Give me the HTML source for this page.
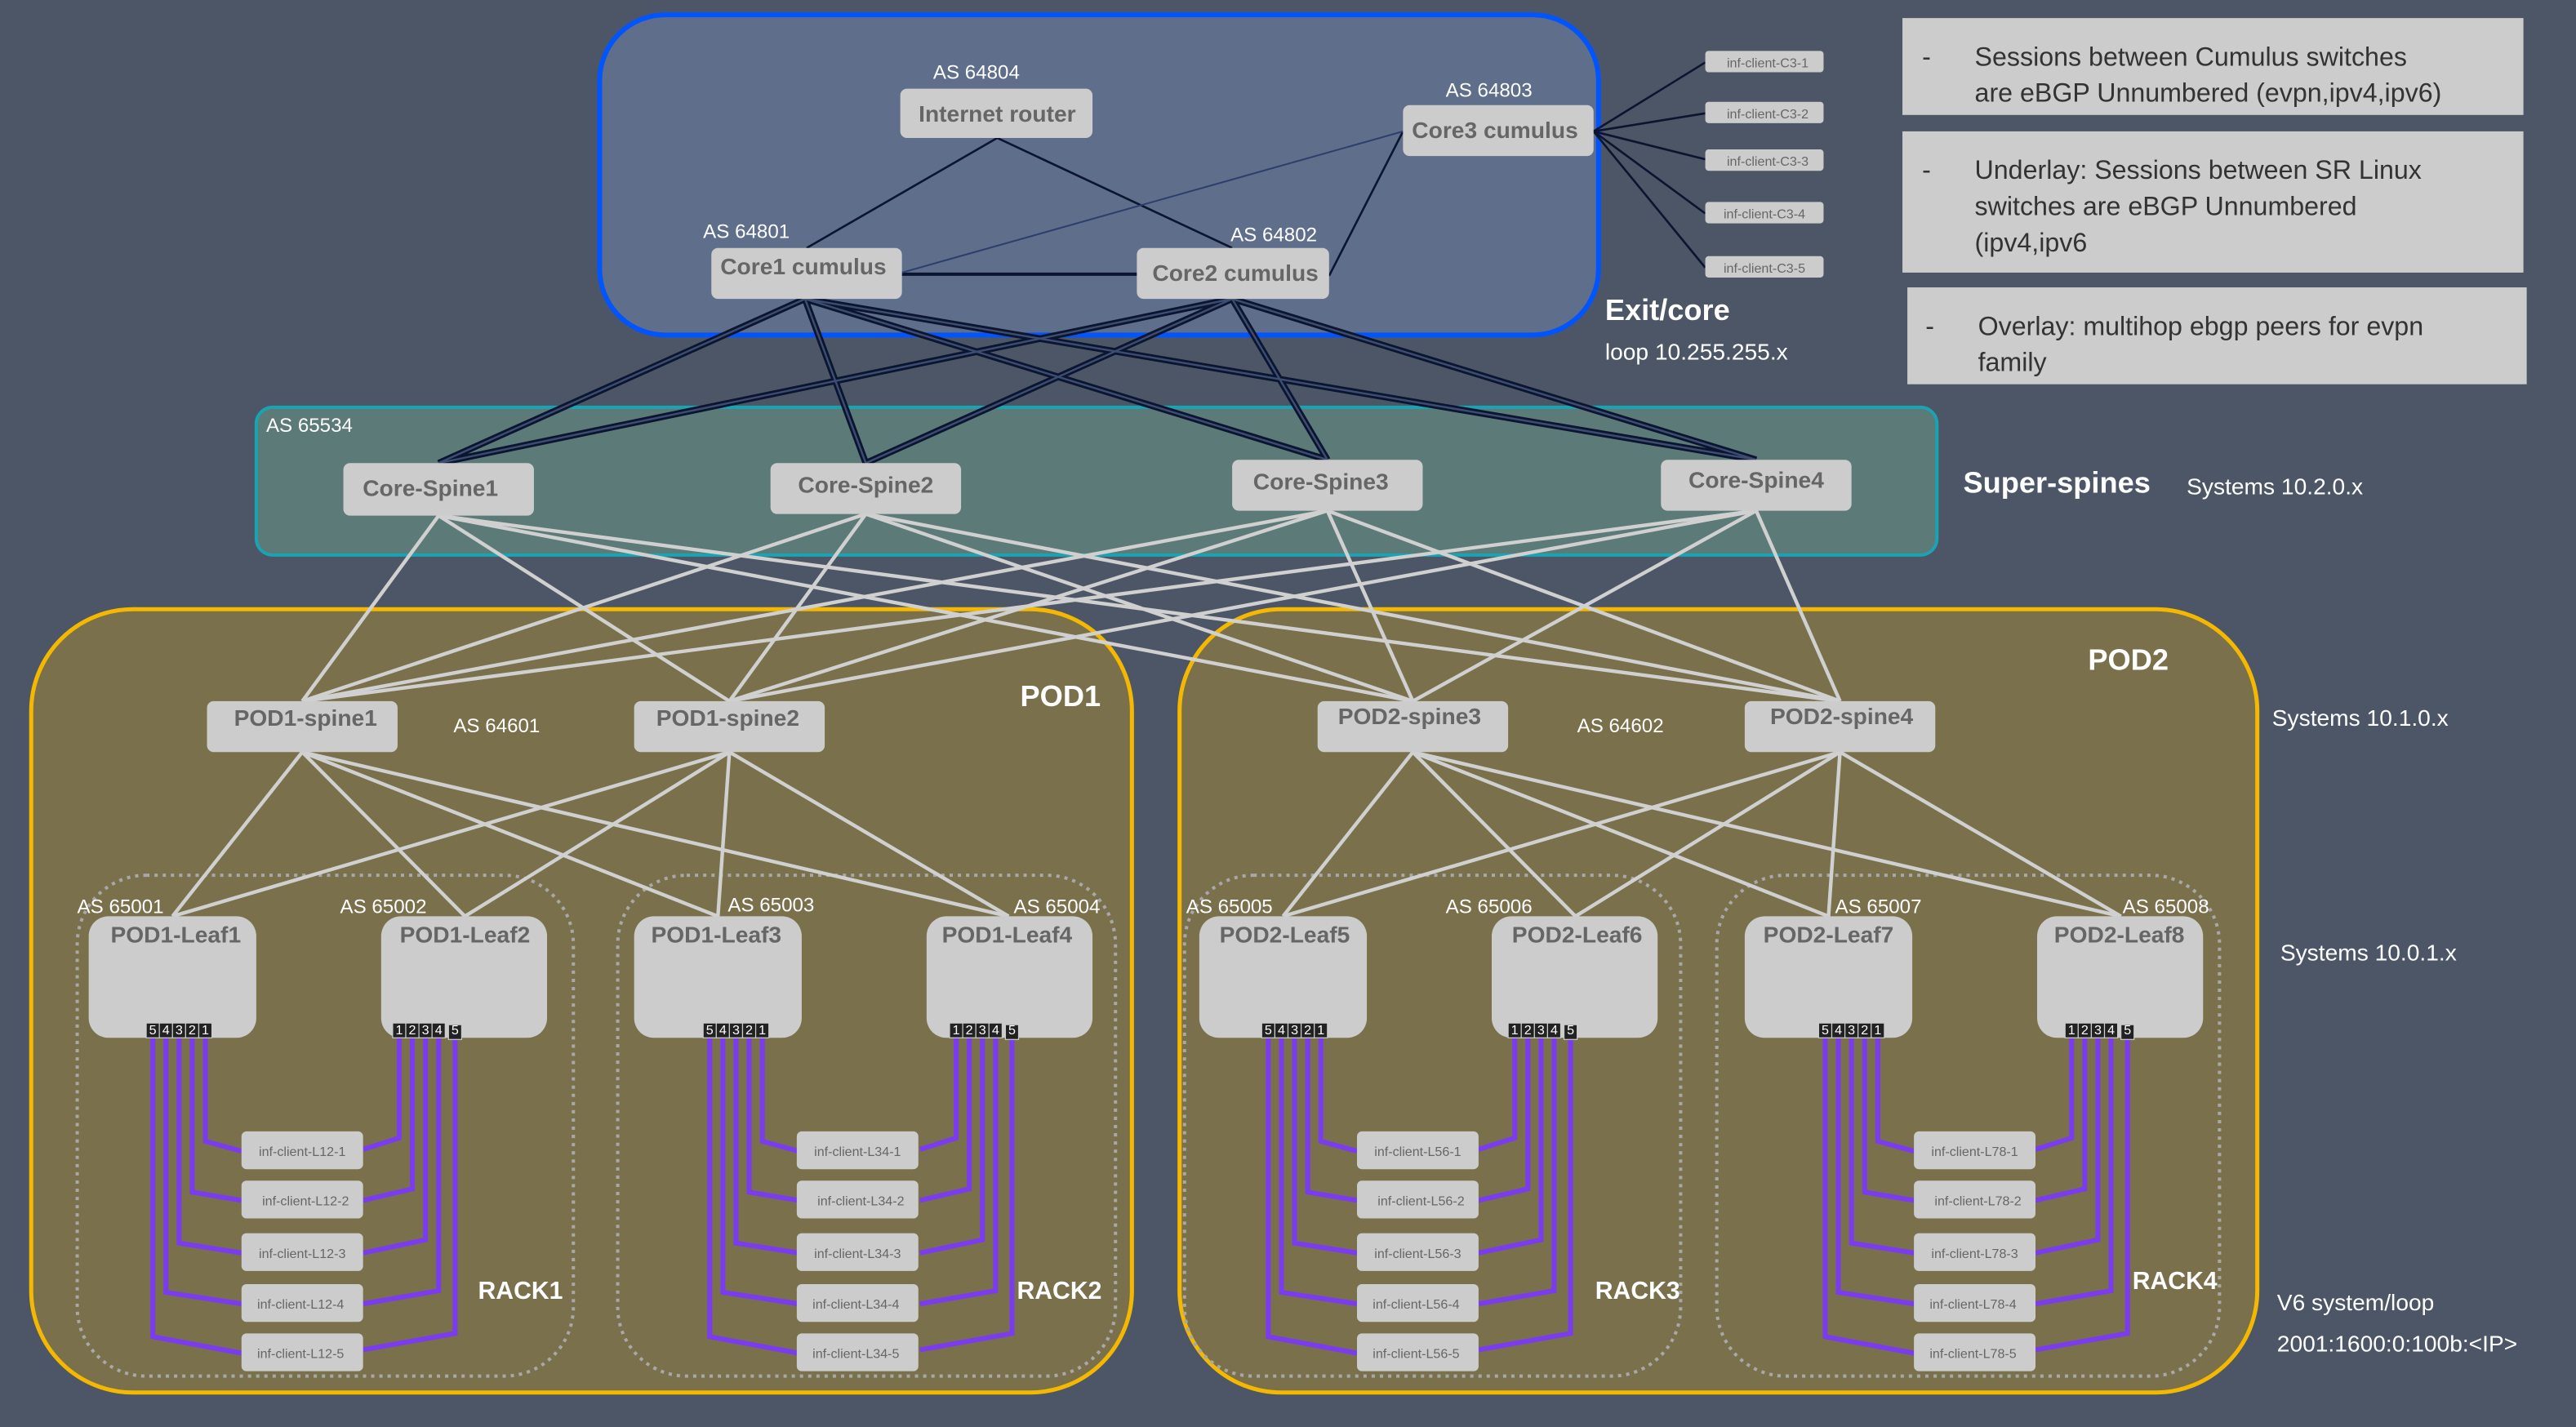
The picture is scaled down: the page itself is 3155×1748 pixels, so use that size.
<!DOCTYPE html>
<html><head><meta charset="utf-8"><style>
html,body{margin:0;padding:0;background:#4d5666;}
svg{display:block;}
text{font-family:"Liberation Sans",sans-serif;}
.n{fill:#cccccc;}
.nl{fill:#666;font-weight:bold;font-size:14px;text-anchor:middle;}
.as{fill:#fff;font-size:12px;}
.cl{fill:#666;font-size:8px;text-anchor:middle;}
.pt{fill:#fff;font-size:8px;text-anchor:middle;}
.big{fill:#fff;font-weight:bold;font-size:18px;}
.sm{fill:#fff;font-size:14px;}
.rk{fill:#fff;font-weight:bold;font-size:15px;}
.note{fill:#333;font-size:16px;}
</style></head><body>
<svg width="3155" height="1748" viewBox="0 0 1568 869" preserveAspectRatio="none" xmlns="http://www.w3.org/2000/svg">
<defs>
<g id="purp" fill="none" stroke="#7b3cf0" stroke-width="3">
<path d="M125 632V695L147 701M117 632V726L147 731M109 632V757L147 763M101 632V787L147 794M93 632V814L147 824"/>
<path d="M243 632V693L221 700M251 632V724L221 731M259 632V755L221 763M267 632V786L221 794M277 632V812L221 822"/>
</g>
<g id="ports" fill="#222" stroke="#ccc" stroke-width="0.6">
<rect x="89" y="623" width="8" height="9"/><rect x="97" y="623" width="8" height="9"/><rect x="105" y="623" width="8" height="9"/><rect x="113" y="623" width="8" height="9"/><rect x="121" y="623" width="8" height="9"/>
<rect x="239" y="623" width="8" height="9"/><rect x="247" y="623" width="8" height="9"/><rect x="255" y="623" width="8" height="9"/><rect x="263" y="623" width="8" height="9"/><rect x="273" y="624" width="8" height="9"/>
</g>
</defs>
<rect width="1568" height="869" fill="#4d5666"/>

<!-- Exit/core -->
<rect x="365" y="9" width="608" height="195" rx="40" fill="#5f6e8b" stroke="#0055ff" stroke-width="3"/>
<!-- superspine -->
<rect x="156" y="248" width="1023" height="90" rx="10" fill="#5c7a78" stroke="#1aa3b3" stroke-width="2"/>
<!-- pods -->
<rect x="19" y="371" width="670" height="477" rx="62" fill="#7a704b" stroke="#f5b800" stroke-width="2.5"/>
<rect x="718" y="371" width="656" height="477" rx="62" fill="#7a704b" stroke="#f5b800" stroke-width="2.5"/>
<!-- racks -->
<g fill="none" stroke="#a8a8a8" stroke-width="2" stroke-dasharray="2 3">
<rect x="47" y="533" width="302" height="305" rx="42"/>
<rect x="376" y="533" width="303" height="305" rx="42"/>
<rect x="721" y="533" width="302" height="305" rx="42"/>
<rect x="1045" y="533" width="306" height="305" rx="42"/>
</g>

<!-- core internal links -->
<g stroke="#0b1530" stroke-width="1.3" fill="none">
<line x1="607" y1="84" x2="491" y2="151"/>
<line x1="607" y1="84" x2="750" y2="151"/>
<line x1="549" y1="167" x2="692" y2="167" stroke-width="2"/>
<line x1="809" y1="168" x2="854" y2="80"/>
<line x1="970" y1="80" x2="1038" y2="38"/>
<line x1="970" y1="80" x2="1038" y2="69"/>
<line x1="970" y1="80" x2="1038" y2="97"/>
<line x1="970" y1="80" x2="1038" y2="130"/>
<line x1="970" y1="80" x2="1038" y2="163"/>
</g>
<line x1="549" y1="166" x2="854" y2="80" stroke="#2c3f6c" stroke-width="1"/>

<!-- core to superspine double links -->
<g stroke="#0b1530" stroke-width="4" fill="none">
<path d="M490 182L267 282M490 182L527 282M490 182L808 280M490 182L1069 280M750 182L267 282M750 182L527 282M750 182L808 280M750 182L1069 280"/>
</g>
<g stroke="#3d4d72" stroke-width="1.2" fill="none">
<path d="M490 182L267 282M490 182L527 282M490 182L808 280M490 182L1069 280M750 182L267 282M750 182L527 282M750 182L808 280M750 182L1069 280"/>
</g>

<!-- superspine to pod spine -->
<g stroke="#d0d0d0" stroke-width="2.2" fill="none">
<path d="M267 314L184 427M267 314L444 427M267 314L860 427M267 314L1120 427"/>
<path d="M527 313L184 427M527 313L444 427M527 313L860 427M527 313L1120 427"/>
<path d="M808 311L184 427M808 311L444 427M808 311L860 427M808 311L1120 427"/>
<path d="M1069 311L184 427M1069 311L444 427M1069 311L860 427M1069 311L1120 427"/>
<path d="M184 458L105 558M184 458L283 558M184 458L437 558M184 458L614 558"/>
<path d="M444 458L105 558M444 458L283 558M444 458L437 558M444 458L614 558"/>
<path d="M860 458L781 558M860 458L959 558M860 458L1113 558M860 458L1291 558"/>
<path d="M1120 458L781 558M1120 458L959 558M1120 458L1113 558M1120 458L1291 558"/>
</g>

<!-- core nodes -->
<rect class="n" x="548" y="54" width="117" height="30" rx="4"/><text class="nl" x="607" y="74">Internet router</text>
<rect class="n" x="854" y="64" width="116" height="31" rx="4"/><text class="nl" x="910" y="84">Core3 cumulus</text>
<rect class="n" x="433" y="151" width="116" height="31" rx="4"/><text class="nl" x="489" y="167">Core1 cumulus</text>
<rect class="n" x="692" y="151" width="117" height="31" rx="4"/><text class="nl" x="752" y="171">Core2 cumulus</text>
<text class="as" x="568" y="48">AS 64804</text>
<text class="as" x="880" y="59">AS 64803</text>
<text class="as" x="428" y="145">AS 64801</text>
<text class="as" x="749" y="147">AS 64802</text>

<!-- C3 clients -->
<g class="n">
<rect x="1038" y="31" width="72" height="13" rx="2"/><rect x="1038" y="62" width="72" height="13" rx="2"/><rect x="1038" y="91" width="72" height="13" rx="2"/><rect x="1038" y="123" width="72" height="13" rx="2"/><rect x="1038" y="156" width="72" height="13" rx="2"/>
</g>
<text class="cl" x="1076" y="41">inf-client-C3-1</text>
<text class="cl" x="1076" y="72">inf-client-C3-2</text>
<text class="cl" x="1076" y="101">inf-client-C3-3</text>
<text class="cl" x="1074" y="133">inf-client-C3-4</text>
<text class="cl" x="1074" y="166">inf-client-C3-5</text>

<text class="big" x="977" y="195">Exit/core</text>
<text class="sm" x="977" y="219">loop 10.255.255.x</text>

<!-- notes -->
<rect x="1158" y="11" width="378" height="59" fill="#cccccc"/>
<text class="note" x="1170" y="40">-</text><text class="note" x="1202" y="40">Sessions between Cumulus switches</text>
<text class="note" x="1202" y="62">are eBGP Unnumbered (evpn,ipv4,ipv6)</text>
<rect x="1158" y="80" width="378" height="86" fill="#cccccc"/>
<text class="note" x="1170" y="109">-</text><text class="note" x="1202" y="109">Underlay: Sessions between SR Linux</text>
<text class="note" x="1202" y="131">switches are eBGP Unnumbered</text>
<text class="note" x="1202" y="153">(ipv4,ipv6</text>
<rect x="1161" y="175" width="377" height="59" fill="#cccccc"/>
<text class="note" x="1172" y="204">-</text><text class="note" x="1204" y="204">Overlay: multihop ebgp peers for evpn</text>
<text class="note" x="1204" y="226">family</text>

<!-- superspines -->
<text class="as" x="162" y="263">AS 65534</text>
<rect class="n" x="209" y="282" width="116" height="32" rx="4"/><text class="nl" x="262" y="302">Core-Spine1</text>
<rect class="n" x="469" y="282" width="116" height="31" rx="4"/><text class="nl" x="527" y="300">Core-Spine2</text>
<rect class="n" x="750" y="280" width="116" height="31" rx="4"/><text class="nl" x="804" y="298">Core-Spine3</text>
<rect class="n" x="1011" y="280" width="116" height="31" rx="4"/><text class="nl" x="1069" y="297">Core-Spine4</text>
<text class="big" x="1195" y="300">Super-spines</text>
<text class="sm" x="1331" y="301">Systems 10.2.0.x</text>

<!-- pod spines -->
<rect class="n" x="126" y="427" width="116" height="31" rx="4"/><text class="nl" x="186" y="442">POD1-spine1</text>
<rect class="n" x="386" y="427" width="116" height="31" rx="4"/><text class="nl" x="443" y="442">POD1-spine2</text>
<rect class="n" x="802" y="427" width="116" height="31" rx="4"/><text class="nl" x="858" y="441">POD2-spine3</text>
<rect class="n" x="1062" y="427" width="116" height="31" rx="4"/><text class="nl" x="1121" y="441">POD2-spine4</text>
<text class="as" x="276" y="446">AS 64601</text>
<text class="as" x="960" y="446">AS 64602</text>
<text class="big" x="621" y="430">POD1</text>
<text class="big" x="1271" y="408">POD2</text>
<text class="sm" x="1383" y="442">Systems 10.1.0.x</text>
<text class="sm" x="1388" y="585">Systems 10.0.1.x</text>
<text class="sm" x="1386" y="798">V6 system/loop</text>
<text class="sm" x="1386" y="823">2001:1600:0:100b:&lt;IP&gt;</text>

<!-- purple links & ports -->
<use href="#purp"/>
<use href="#purp" transform="translate(339 0)"/>
<use href="#purp" transform="translate(679 0)"/>
<use href="#purp" transform="translate(1018 0)"/>

<!-- leaves -->
<g class="n">
<rect x="54" y="558" width="102" height="74" rx="12"/><rect x="232" y="558" width="101" height="74" rx="12"/>
<rect x="386" y="558" width="102" height="74" rx="12"/><rect x="564" y="558" width="101" height="74" rx="12"/>
<rect x="730" y="558" width="102" height="74" rx="12"/><rect x="908" y="558" width="101" height="74" rx="12"/>
<rect x="1062" y="558" width="102" height="74" rx="12"/><rect x="1240" y="558" width="101" height="74" rx="12"/>
</g>
<text class="nl" x="107" y="574">POD1-Leaf1</text><text class="nl" x="283" y="574">POD1-Leaf2</text>
<text class="nl" x="436" y="574">POD1-Leaf3</text><text class="nl" x="613" y="574">POD1-Leaf4</text>
<text class="nl" x="782" y="574">POD2-Leaf5</text><text class="nl" x="960" y="574">POD2-Leaf6</text>
<text class="nl" x="1113" y="574">POD2-Leaf7</text><text class="nl" x="1290" y="574">POD2-Leaf8</text>
<text class="as" x="47" y="556">AS 65001</text><text class="as" x="207" y="556">AS 65002</text>
<text class="as" x="443" y="555">AS 65003</text><text class="as" x="617" y="556">AS 65004</text>
<text class="as" x="722" y="556">AS 65005</text><text class="as" x="880" y="556">AS 65006</text>
<text class="as" x="1117" y="556">AS 65007</text><text class="as" x="1292" y="556">AS 65008</text>

<use href="#ports"/>
<use href="#ports" transform="translate(339 0)"/>
<use href="#ports" transform="translate(679 0)"/>
<use href="#ports" transform="translate(1018 0)"/>
<text class="pt" x="93 101 109 117 125" y="630">54321</text><text class="pt" x="243 251 259 267 277" y="630">12345</text>
<text class="pt" x="432 440 448 456 464" y="630">54321</text><text class="pt" x="582 590 598 606 616" y="630">12345</text>
<text class="pt" x="772 780 788 796 804" y="630">54321</text><text class="pt" x="922 930 938 946 956" y="630">12345</text>
<text class="pt" x="1111 1119 1127 1135 1143" y="630">54321</text><text class="pt" x="1261 1269 1277 1285 1295" y="630">12345</text>

<!-- clients -->
<g class="n">
<rect x="147" y="689" width="74" height="23" rx="3"/><rect x="147" y="719" width="74" height="23" rx="3"/><rect x="147" y="751" width="74" height="23" rx="3"/><rect x="147" y="782" width="74" height="23" rx="3"/><rect x="147" y="812" width="74" height="23" rx="3"/>
<rect x="485" y="689" width="74" height="23" rx="3"/><rect x="485" y="719" width="74" height="23" rx="3"/><rect x="485" y="751" width="74" height="23" rx="3"/><rect x="485" y="782" width="74" height="23" rx="3"/><rect x="485" y="812" width="74" height="23" rx="3"/>
<rect x="826" y="689" width="74" height="23" rx="3"/><rect x="826" y="719" width="74" height="23" rx="3"/><rect x="826" y="751" width="74" height="23" rx="3"/><rect x="826" y="782" width="74" height="23" rx="3"/><rect x="826" y="812" width="74" height="23" rx="3"/>
<rect x="1165" y="689" width="74" height="23" rx="3"/><rect x="1165" y="719" width="74" height="23" rx="3"/><rect x="1165" y="751" width="74" height="23" rx="3"/><rect x="1165" y="782" width="74" height="23" rx="3"/><rect x="1165" y="812" width="74" height="23" rx="3"/>
</g>
<text class="cl" x="184" y="704">inf-client-L12-1</text><text class="cl" x="186" y="734">inf-client-L12-2</text><text class="cl" x="184" y="766">inf-client-L12-3</text><text class="cl" x="183" y="797">inf-client-L12-4</text><text class="cl" x="183" y="827">inf-client-L12-5</text>
<text class="cl" x="522" y="704">inf-client-L34-1</text><text class="cl" x="524" y="734">inf-client-L34-2</text><text class="cl" x="522" y="766">inf-client-L34-3</text><text class="cl" x="521" y="797">inf-client-L34-4</text><text class="cl" x="521" y="827">inf-client-L34-5</text>
<text class="cl" x="863" y="704">inf-client-L56-1</text><text class="cl" x="865" y="734">inf-client-L56-2</text><text class="cl" x="863" y="766">inf-client-L56-3</text><text class="cl" x="862" y="797">inf-client-L56-4</text><text class="cl" x="862" y="827">inf-client-L56-5</text>
<text class="cl" x="1202" y="704">inf-client-L78-1</text><text class="cl" x="1204" y="734">inf-client-L78-2</text><text class="cl" x="1202" y="766">inf-client-L78-3</text><text class="cl" x="1201" y="797">inf-client-L78-4</text><text class="cl" x="1201" y="827">inf-client-L78-5</text>

<text class="rk" x="291" y="791">RACK1</text>
<text class="rk" x="619" y="791">RACK2</text>
<text class="rk" x="971" y="791">RACK3</text>
<text class="rk" x="1298" y="785">RACK4</text>
</svg>
</body></html>
